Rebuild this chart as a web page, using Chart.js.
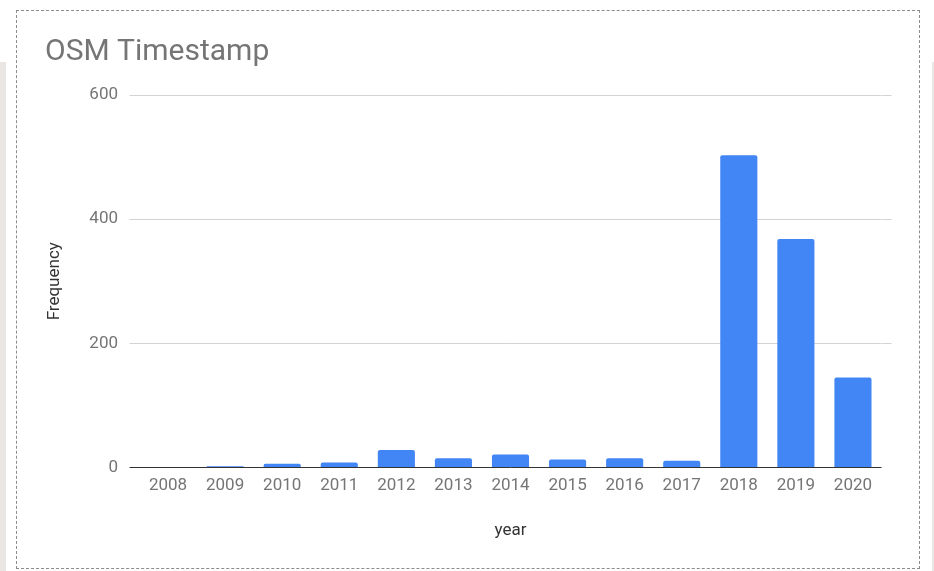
<!DOCTYPE html>
<html>
<head>
<meta charset="utf-8">
<script src="https://cdn.jsdelivr.net/npm/chart.js@4"></script>
<style>
  html, body { margin: 0; padding: 0; background: #fff; }
  body { width: 934px; height: 571px; position: relative; overflow: hidden; }
  .strip { position: absolute; background: #e9e6e3; }
  #frame {
    position: absolute; left: 16px; top: 10px; width: 902px; height: 557px;
    border: 1px dashed #8c8c8c;
  }
  #chart { position: absolute; left: 0; top: 0; }
</style>
</head>
<body>
<div class="strip" style="left:0;top:62px;width:6px;height:509px"></div>
<div class="strip" style="left:932px;top:62px;width:2px;height:509px"></div>
<div id="frame"></div>
<canvas id="chart" width="934" height="571"></canvas>
<script>
const years = ["2008", "2009", "2010", "2011", "2012", "2013", "2014", "2015", "2016", "2017", "2018", "2019", "2020"];
const frequency = [1, 2, 6, 8, 28, 15, 21, 13, 15, 11, 503, 368, 145];
const yTicks = [0, 200, 400, 600];

const gridColor = (ctx) => (ctx.tick && ctx.tick.value === 0 ? "#333333" : "#d3d3d3");

const ctx = document.getElementById("chart").getContext("2d");

const chart = new Chart(ctx, {
  type: "bar",
  data: {
    labels: years,
    datasets: [{
      label: "Frequency",
      data: frequency,
      backgroundColor: "#4285f4",
      borderRadius: { topLeft: 2, topRight: 2 },
      borderSkipped: "bottom",
      categoryPercentage: 1,
      barPercentage: 0.65
    }]
  },
  options: {
    responsive: false,
    animation: false,
    layout: {
      padding: { left: 45, top: 34, right: 42.5, bottom: 30 }
    },
    plugins: {
      legend: { display: false },
      tooltip: { enabled: false },
      title: {
        display: true,
        text: "OSM Timestamp",
        align: "start",
        color: "#757575",
        font: { family: "Roboto", size: 30, weight: "normal" },
        padding: { top: 0, bottom: 25 }
      }
    },
    scales: {
      x: {
        grid: { display: false, drawTicks: false },
        border: { display: false },
        ticks: {
          color: "#757575",
          font: { family: "Roboto", size: 17 },
          padding: 8,
          maxRotation: 0
        },
        title: {
          display: true,
          text: "year",
          color: "#333333",
          font: { family: "Roboto", size: 17 },
          padding: 0
        },
        afterFit: (scale) => { scale.height = 73.5; }
      },
      y: {
        min: yTicks[0],
        max: yTicks[yTicks.length - 1],
        grid: {
          color: gridColor,
          tickColor: gridColor,
          tickLength: 10,
          lineWidth: 1
        },
        border: { display: false },
        ticks: {
          stepSize: yTicks[1] - yTicks[0],
          color: "#757575",
          font: { family: "Roboto", size: 17 },
          padding: 11.5
        },
        title: {
          display: true,
          text: "Frequency",
          color: "#333333",
          font: { family: "Roboto", size: 17 },
          padding: 0
        },
        afterFit: (scale) => { scale.width = 94.5; }
      },
      yRight: {
        axis: "y",
        position: "right",
        min: yTicks[0],
        max: yTicks[yTicks.length - 1],
        grid: {
          drawOnChartArea: false,
          tickLength: 10,
          tickColor: (c) => (c.tick && c.tick.value === 0 ? "rgba(0,0,0,0)" : "#d3d3d3")
        },
        border: { display: false },
        ticks: { stepSize: yTicks[1] - yTicks[0], display: false },
        afterFit: (scale) => { scale.width = 10; }
      }
    }
  }
});
</script>
</body>
</html>
